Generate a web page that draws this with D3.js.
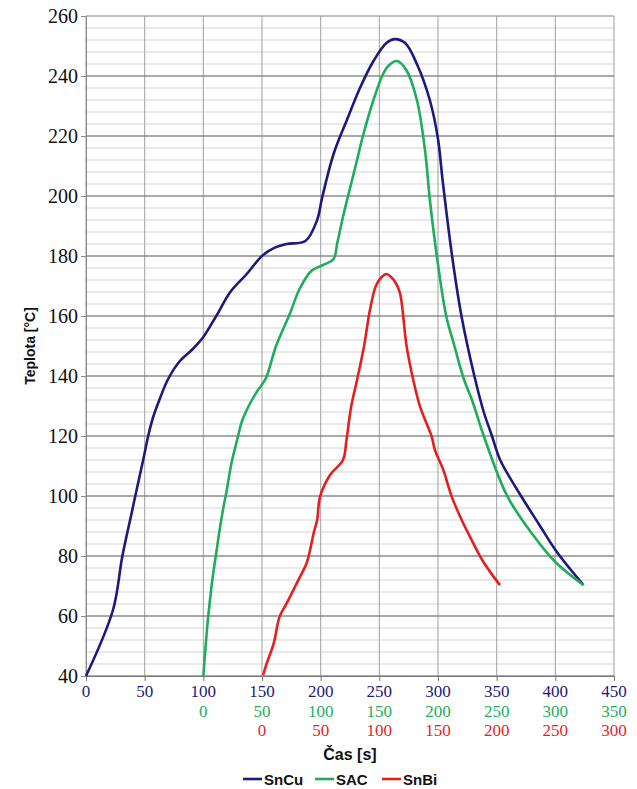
<!DOCTYPE html>
<html><head><meta charset="utf-8">
<script src="https://cdn.jsdelivr.net/npm/d3@7"></script>
<style>body{margin:0;background:#fff}</style>
</head><body><svg id="c" width="637" height="789"></svg>
<script>
// Series data: [time in the series' own scale (s), temperature (°C)]
const snCuTime = [0,23,31,39,42,49,53,57,63,70,80,91,100,111,123,137,150,160,171,187,197,201,211,222,233.5,245,256,263,272,282,293,300,304,312,320,331,339,346,353,370,387,401,424];
const snCuTemp = [40,62,80,94.5,100,112.5,120,126,132.5,139,145,149,153,160,168,174,180,182.6,184,185,192,199,214,225,236,245,251,252.3,251,244,232,219,205,180,160,140,128,120,112,100.5,90,81.5,70.3];
const sacTime = [0,3,5,8,11,14,17,20,24,29,33,40,46,53,62,74,82,92,102,111,114,119,124,131,136,145,153,158,165,173,182,189,193,199,207,214,222,229,239,259,281,300,324];
const sacTemp = [40,55,63,73,81,89,96,102,111,119,125,131,135,139,150,161,169,175,177,179,184,193,201,212,220,232,240.5,243.5,245,242,232,215,199,180,160,150,139,132,120,100,87,78,70.3];
const snBiTime = [1,4,10,15,21,31,38,41,44,47,49.5,58,69,72,76,81,87,92,97,102,106,110,114,117.6,123.3,128.9,134.7,144.6,147.4,154.5,161.7,170.2,178.7,188.6,202.8];
const snBiTemp = [40.3,44.2,50.9,59.8,64.2,72,77.6,82,87.6,92,99.8,107,112,118.7,129.8,138.7,150,162,170,173,174,173,171,167.6,149.8,138.7,129.8,119.8,115.3,108.7,99.8,92,85.3,78.1,70.3];
const seriesNames = ["SnCu","SAC","SnBi"];
const seriesOffsets = [0,100,150];   // start of each series on the common axis
const seriesColors = ["#1c1a7c","#1fad5c","#e41f1f"];
const xTicks = [0,50,100,150,200,250,300,350,400,450];
const yTicks = [40,60,80,100,120,140,160,180,200,220,240,260];

const svg = d3.select("#c");
const L=86,R=614,T=16,B=676;
const x = d3.scaleLinear().domain([0,450]).range([L,R]);
const y = d3.scaleLinear().domain([40,260]).range([B,T]);

// minor horizontal gridlines
const minor = d3.range(40,261,4);
svg.append("g").selectAll("line").data(minor).join("line")
  .attr("x1",L).attr("x2",R).attr("y1",d=>y(d)).attr("y2",d=>y(d))
  .attr("stroke","#d4d4d4").attr("stroke-width",1.2);
// vertical gridlines
svg.append("g").selectAll("line").data(xTicks).join("line")
  .attr("x1",d=>x(d)).attr("x2",d=>x(d)).attr("y1",T).attr("y2",B)
  .attr("stroke","#a8a8a8").attr("stroke-width",1.1);
// major horizontal gridlines
svg.append("g").selectAll("line").data(yTicks).join("line")
  .attr("x1",L).attr("x2",R).attr("y1",d=>y(d)).attr("y2",d=>y(d))
  .attr("stroke",d=>d===260?"#9a9a9a":"#6a6a6a").attr("stroke-width",1.2);

// axes
const yAxis = svg.append("g").attr("transform",`translate(${L},0)`)
  .call(d3.axisLeft(y).tickValues(yTicks).tickSize(5).tickPadding(3));
yAxis.select(".domain").attr("stroke","#8a8a8a");
yAxis.selectAll(".tick line").attr("stroke","#8a8a8a");
yAxis.selectAll("text").attr("font-family","'Liberation Serif',serif").attr("font-size",20).attr("fill","#111");

const xAxis = svg.append("g").attr("transform",`translate(0,${B})`)
  .call(d3.axisBottom(x).tickValues(xTicks).tickSize(5).tickFormat(""));
xAxis.select(".domain").attr("stroke","#7a7a7a");
xAxis.selectAll(".tick line").attr("stroke","#7a7a7a");

// three rows of time labels
const rowY = [697,716.5,736];
seriesOffsets.forEach((off,i)=>{
  svg.append("g").selectAll("text").data(xTicks.filter(t=>t>=off)).join("text")
    .attr("x",d=>x(d)).attr("y",rowY[i]).attr("text-anchor","middle")
    .attr("font-family","'Liberation Serif',serif").attr("font-size",17)
    .attr("fill",seriesColors[i]).text(d=>d-off);
});

// lines
const series = [
  d3.zip(snCuTime,snCuTemp),
  d3.zip(sacTime,sacTemp),
  d3.zip(snBiTime,snBiTemp)
];
const line = d3.line().curve(d3.curveCatmullRom.alpha(0.5));
series.forEach((s,i)=>{
  svg.append("path")
    .attr("d", line.x(d=>x(d[0]+seriesOffsets[i])).y(d=>y(d[1]))(s))
    .attr("fill","none").attr("stroke",seriesColors[i]).attr("stroke-width",2.6)
    .attr("stroke-linejoin","round");
});

// axis titles
svg.append("text").attr("transform",`translate(35,${(T+B)/2}) rotate(-90)`)
  .attr("text-anchor","middle").attr("font-family","'Liberation Sans',Arial,sans-serif")
  .attr("font-weight","bold").attr("font-size",14).attr("fill","#111").text("Teplota [°C]");
svg.append("text").attr("x",(L+R)/2).attr("y",760).attr("text-anchor","middle")
  .attr("font-family","'Liberation Sans',Arial,sans-serif")
  .attr("font-weight","bold").attr("font-size",16).attr("fill","#111").text("Čas [s]");

// legend
const legX = [243,315,382];
seriesNames.forEach((n,i)=>{
  const g = svg.append("g").attr("transform",`translate(${legX[i]},779)`);
  g.append("line").attr("x1",0).attr("x2",19).attr("y1",0).attr("y2",0)
    .attr("stroke",seriesColors[i]).attr("stroke-width",2.6);
  g.append("text").attr("x",21).attr("y",5.5)
    .attr("font-family","'Liberation Sans',Arial,sans-serif").attr("font-weight","bold")
    .attr("font-size",15).attr("fill","#111").text(n);
});
</script></body></html>
